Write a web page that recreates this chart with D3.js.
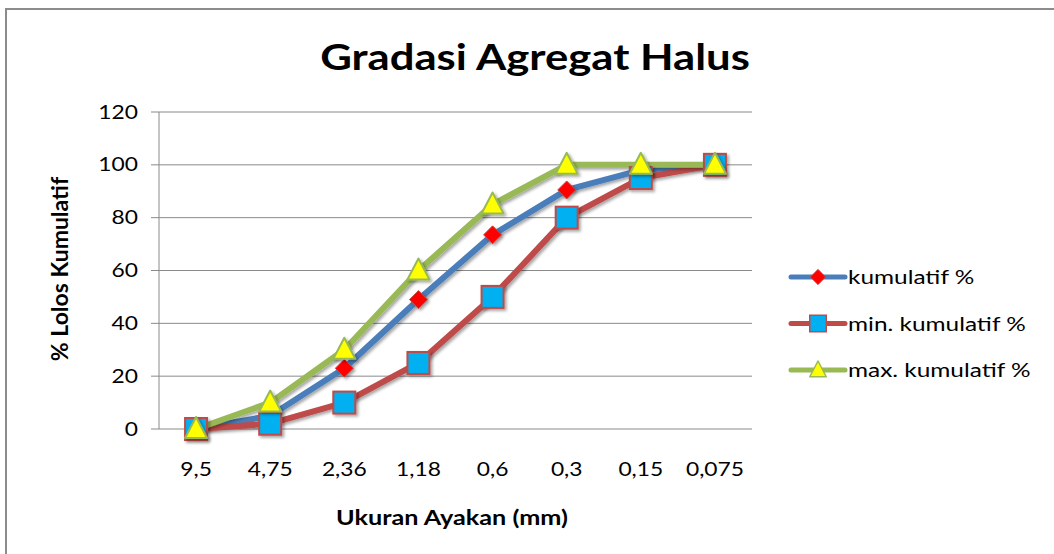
<!DOCTYPE html>
<html>
<head>
<meta charset="utf-8">
<script src="https://cdn.jsdelivr.net/npm/d3@7"></script>
<style>
  body { margin: 0; background: #fff; }
  text { font-family: Lato, "Open Sans", sans-serif; fill: #000; }
</style>
</head>
<body>
<script>
const sieves = ['9,5', '4,75', '2,36', '1,18', '0,6', '0,3', '0,15', '0,075'];
const kumulatif = [0, 5, 23, 49, 73.5, 90.5, 98, 100];
const minKumulatif = [0, 2, 10, 25, 50, 80, 95, 100];
const maxKumulatif = [0, 10, 30, 60, 85, 100, 100, 100];
const yTicks = [0, 20, 40, 60, 80, 100, 120];

const series = [
  { name: 'kumulatif %', values: kumulatif, line: '#4a7ebb', marker: 'diamond' },
  { name: 'min. kumulatif %', values: minKumulatif, line: '#be4b48', marker: 'square' },
  { name: 'max. kumulatif %', values: maxKumulatif, line: '#98b954', marker: 'triangle' }
];

const W = 1054, H = 554;
const plot = { left: 159, right: 752, top: 112, bottom: 429 };

const svg = d3.select('body').append('svg')
    .attr('width', W).attr('height', H);

const defs = svg.append('defs');
const shadow = defs.append('filter').attr('id', 'shadow')
    .attr('x', '-50%').attr('y', '-50%').attr('width', '200%').attr('height', '200%');
shadow.append('feDropShadow')
    .attr('dx', 2).attr('dy', 2).attr('stdDeviation', 1.8)
    .attr('flood-color', '#000').attr('flood-opacity', 0.35);

// chart border
svg.append('rect')
    .attr('x', 6).attr('y', 9).attr('width', W + 10).attr('height', H + 10)
    .attr('fill', 'none').attr('stroke', '#8c8c8c').attr('stroke-width', 2);

const x = d3.scaleBand().domain(sieves).range([plot.left, plot.right]);
const y = d3.scaleLinear().domain([0, 120]).range([plot.bottom, plot.top]);

// text that is a bit wider than the font draws it (the original is stretched)
function label(g, px, py, str, size, sx, anchor, bold) {
  return g.append('text')
      .attr('transform', `translate(${px},${py}) scale(${sx},1)`)
      .attr('dy', '0.35em').attr('text-anchor', anchor)
      .style('font-size', size + 'px')
      .style('font-weight', bold ? 'bold' : null)
      .text(str);
}

// gridlines
svg.append('g').selectAll('line').data(yTicks).join('line')
    .attr('x1', plot.left - 8).attr('x2', plot.right)
    .attr('y1', d => y(d)).attr('y2', d => y(d))
    .attr('stroke', '#8a8a8a').attr('stroke-width', 1);

svg.append('line')
    .attr('x1', plot.left).attr('x2', plot.left)
    .attr('y1', plot.top).attr('y2', plot.bottom)
    .attr('stroke', '#8a8a8a');

const yLab = svg.append('g');
yTicks.forEach(t => label(yLab, 138, y(t), t, 19, 1.2, 'end', false));

const xLab = svg.append('g');
sieves.forEach(s => label(xLab, x(s) + x.bandwidth() / 2, 469, s, 19, 1.2, 'middle', false));

label(svg, 535, 57, 'Gradasi Agregat Halus', 37, 1.18, 'middle', true);
label(svg, 452, 518, 'Ukuran Ayakan (mm)', 21, 1.2, 'middle', true);

svg.append('text')
    .attr('transform', 'translate(60,269) rotate(-90)')
    .attr('dy', '0.35em').attr('text-anchor', 'middle')
    .style('font-size', '23px').style('font-weight', 'bold')
    .text('% Lolos Kumulatif');

const line = d3.line()
    .x((d, i) => x(sieves[i]) + x.bandwidth() / 2)
    .y(d => y(d));

function drawMarker(g, type) {
  if (type === 'diamond') {
    g.append('path').attr('d', 'M0,-9L9,0L0,9L-9,0Z')
        .attr('fill', '#ff0000').attr('stroke', '#c0504d').attr('stroke-width', 1);
  } else if (type === 'square') {
    g.append('rect').attr('x', -11).attr('y', -11).attr('width', 22).attr('height', 22)
        .attr('fill', '#00b0f0').attr('stroke', '#be4b48').attr('stroke-width', 2);
  } else {
    g.append('path').attr('d', 'M0,-12L11,9L-11,9Z')
        .attr('fill', '#ffff00').attr('stroke', '#98b954').attr('stroke-width', 2)
        .attr('stroke-linejoin', 'round');
  }
}

series.forEach(s => {
  svg.append('path')
      .datum(s.values)
      .attr('d', line)
      .attr('fill', 'none')
      .attr('stroke', s.line)
      .attr('stroke-width', 6)
      .attr('stroke-linejoin', 'round')
      .attr('stroke-linecap', 'round')
      .attr('filter', 'url(#shadow)');
});

series.forEach(s => {
  svg.append('g').selectAll('g').data(s.values).join('g')
      .attr('transform', (d, i) => `translate(${x(sieves[i]) + x.bandwidth() / 2},${y(d)})`)
      .attr('filter', 'url(#shadow)')
      .each(function() { drawMarker(d3.select(this), s.marker); });
});

// legend
const legend = svg.append('g').selectAll('g').data(series).join('g')
    .attr('transform', (d, i) => `translate(791,${277 + i * 46.5})`);

legend.append('line')
    .attr('x1', 0).attr('x2', 54)
    .attr('stroke', d => d.line).attr('stroke-width', 5)
    .attr('stroke-linecap', 'round');

legend.append('g')
    .attr('transform', d => `translate(27,0) scale(${d.marker === 'diamond' ? 0.85 : 0.75})`)
    .each(function(d) { drawMarker(d3.select(this), d.marker); });

legend.each(function(d) {
  label(d3.select(this), 57, 0, d.name, 20, 1.22, 'start', false);
});
</script>
</body>
</html>
